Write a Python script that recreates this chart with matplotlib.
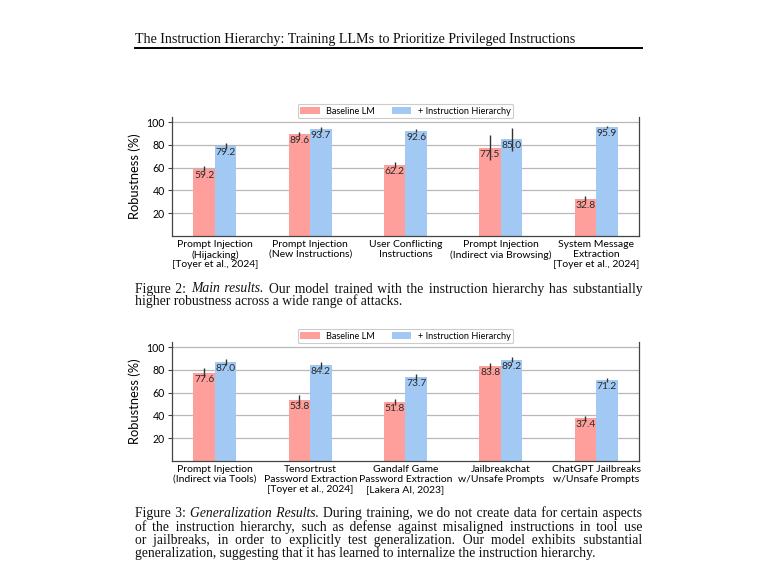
import matplotlib.pyplot as plt
import numpy as np

# Figure 2 data (main results)
cats_main = ['Prompt Injection\n(Hijacking)\n[Toyer et al., 2024]',
             'Prompt Injection\n(New Instructions)',
             'User Conflicting\nInstructions',
             'Prompt Injection\n(Indirect via Browsing)',
             'System Message\nExtraction\n[Toyer et al., 2024]']
base_main = [59.2, 89.6, 62.2, 77.5, 32.8]
hier_main = [79.2, 93.7, 92.6, 85.0, 95.9]
base_main_err = [2.5, 2.0, 2.5, 11.0, 2.0]
hier_main_err = [2.5, 2.0, 1.5, 10.0, 1.0]

# Figure 3 data (generalization)
cats_gen = ['Prompt Injection\n(Indirect via Tools)',
            'Tensortrust\nPassword Extraction\n[Toyer et al., 2024]',
            'Gandalf Game\nPassword Extraction\n[Lakera AI, 2023]',
            'Jailbreakchat\nw/Unsafe Prompts',
            'ChatGPT Jailbreaks\nw/Unsafe Prompts']
base_gen = [77.6, 53.8, 51.8, 83.8, 37.4]
hier_gen = [87.0, 84.2, 73.7, 89.2, 71.2]
base_gen_err = [4.0, 4.5, 2.5, 2.5, 2.5]
hier_gen_err = [3.0, 3.0, 2.5, 2.0, 2.0]

RED = '#FF9F9B'
BLUE = '#A1C9F4'

plt.rcParams['font.family'] = ['Lato', 'DejaVu Sans']

W, H = 780, 570
fig = plt.figure(figsize=(7.8, 5.7), dpi=100)


def bar_panel(top, bottom, cats, base, hier, base_err, hier_err):
    ax = fig.add_axes([172 / W, 1 - bottom / H, 467 / W, (bottom - top) / H])
    x = np.arange(len(cats))
    w = 0.225
    ax.bar(x - w / 2, base, w, color=RED, label='Baseline LM', zorder=2)
    ax.bar(x + w / 2, hier, w, color=BLUE, label='+ Instruction Hierarchy', zorder=2)
    ax.errorbar(x - w / 2, base, yerr=base_err, fmt='none', ecolor='#333333',
                elinewidth=1.0, capsize=0, zorder=3)
    ax.errorbar(x + w / 2, hier, yerr=hier_err, fmt='none', ecolor='#333333',
                elinewidth=1.0, capsize=0, zorder=3)
    for xs, vals in [(x - w / 2, base), (x + w / 2, hier)]:
        for xi, v in zip(xs, vals):
            ax.text(xi, v - 1.8, f'{v:.1f}', ha='center', va='top',
                    fontsize=7.4, color='#2a2a2a', zorder=4)
    ax.set_xlim(-0.45, 4.45)
    ax.set_ylim(0, 104.6)
    ax.set_yticks([20, 40, 60, 80, 100])
    ax.set_xticks(x)
    ax.set_xticklabels(cats, fontsize=7.5, linespacing=1.12)
    ax.tick_params(axis='x', length=0, pad=3)
    ax.tick_params(axis='y', labelsize=7.6, length=3, width=0.8, pad=2, color='#444444')
    ax.set_ylabel('Robustness (%)', fontsize=9.3, labelpad=4)
    ax.grid(axis='y', color='#b8b8b8', lw=0.9)
    ax.set_axisbelow(True)
    ax.spines['top'].set_visible(False)
    for s in ['left', 'right', 'bottom']:
        ax.spines[s].set_color('#444444')
        ax.spines[s].set_linewidth(0.9)
    leg = ax.legend(loc='center', bbox_to_anchor=(0.5, 1.05), ncol=2, fontsize=6.6,
                    frameon=True, fancybox=True, edgecolor='#cccccc', framealpha=1,
                    handlelength=2.1, handleheight=0.7, handletextpad=0.7,
                    columnspacing=1.9, borderpad=0.3)
    leg.get_frame().set_linewidth(0.8)
    return ax


bar_panel(117, 236, cats_main, base_main, hier_main, base_main_err, hier_main_err)
bar_panel(342, 461, cats_gen, base_gen, hier_gen, base_gen_err, hier_gen_err)

# page text in a serif face
SERIF = ['Liberation Serif', 'DejaVu Serif']
HAIR = '\u200a'
renderer = fig.canvas.get_renderer()


def width_of(s, size, italic=False):
    t = fig.text(0, 0, s, fontsize=size, family=SERIF,
                 style='italic' if italic else 'normal')
    wd = t.get_window_extent(renderer).width
    t.remove()
    return wd


def text_line(y, line, size=9.8, justify=True, x0=135, x1=642):
    # y is the baseline in pixels from the top; words wrapped in *...* are italic
    hair = HAIR
    w_space = width_of('a a', size) - width_of('aa', size)
    w_hair = (width_of('a' + hair * 20 + 'a', size) - width_of('aa', size)) / 20
    if w_hair < 0.3:
        hair = '\u2009'
        w_hair = (width_of('a' + hair * 10 + 'a', size) - width_of('aa', size)) / 10
    words = []
    italic = False
    for word in line.split():
        if word.startswith('*'):
            italic = True
        words.append((word.strip('*'), italic))
        if word.endswith('*'):
            italic = False
    widths = [width_of(wd, size, it) for wd, it in words]
    if justify and len(words) > 1:
        gap = (x1 - x0 - sum(widths)) / (len(words) - 1)
    else:
        gap = w_space
    targets = []
    x = x0
    for wd in widths:
        targets.append(x)
        x += wd + gap
    # one text per run of equal style; gaps filled with hair spaces
    i = 0
    while i < len(words):
        it = words[i][1]
        s = words[i][0]
        pos = targets[i] + widths[i]
        j = i + 1
        while j < len(words) and words[j][1] == it:
            k = max(1, int(round((targets[j] - pos) / w_hair)))
            s += hair * k
            pos += k * w_hair + widths[j]
            s += words[j][0]
            j += 1
        fig.text(targets[i] / W, 1 - y / H, s, fontsize=size, family=SERIF,
                 style='italic' if it else 'normal', va='baseline', ha='left',
                 color='#111111')
        i = j


# running header
text_line(43.5, 'The Instruction Hierarchy: Training LLMs to Prioritize Privileged Instructions',
          size=10.1, justify=False)
fig.add_artist(plt.Line2D([135 / W, 642 / W], [1 - 48 / H, 1 - 48 / H], color='black', lw=1.4))

cap2 = ['Figure 2: *Main results.* Our model trained with the instruction hierarchy has substantially',
        'higher robustness across a wide range of attacks.']
for i, ln in enumerate(cap2):
    text_line(292.5 + 13 * i, ln, justify=(i < len(cap2) - 1))

cap3 = ['Figure 3: *Generalization Results.* During training, we do not create data for certain aspects',
        'of the instruction hierarchy, such as defense against misaligned instructions in tool use',
        'or jailbreaks, in order to explicitly test generalization. Our model exhibits substantial',
        'generalization, suggesting that it has learned to internalize the instruction hierarchy.']
for i, ln in enumerate(cap3):
    text_line(517 + 13.5 * i, ln, justify=(i < len(cap3) - 1))

fig.savefig('out.png', dpi=100)
